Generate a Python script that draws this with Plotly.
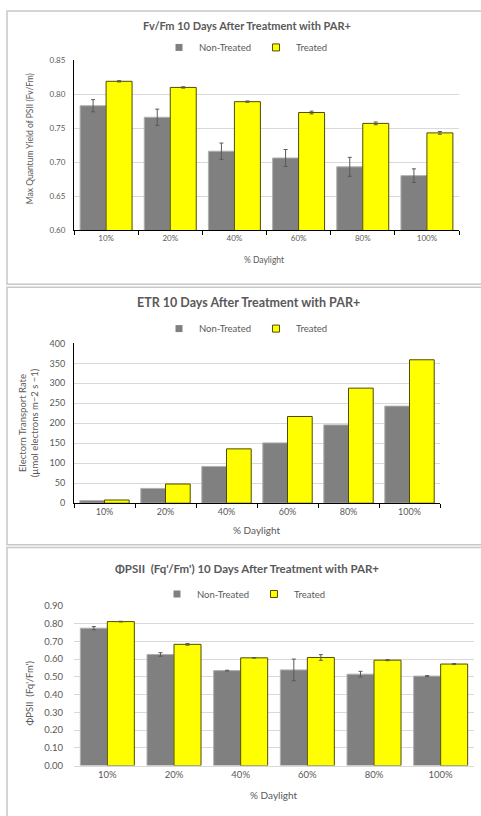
import plotly.graph_objects as go

categories = ["10%", "20%", "40%", "60%", "80%", "100%"]

# Panel 1: Fv/Fm
fvfm_nt = [0.783, 0.766, 0.716, 0.706, 0.693, 0.680]
fvfm_nt_err = [0.009, 0.012, 0.012, 0.0125, 0.014, 0.010]
fvfm_t = [0.819, 0.810, 0.789, 0.773, 0.757, 0.743]
fvfm_t_err = [0.001, 0.001, 0.001, 0.002, 0.002, 0.002]

# Panel 2: ETR
etr_nt = [6.5, 37, 92, 151, 196, 243]
etr_t = [8, 48, 136, 217, 288, 359]

# Panel 3: PhiPSII
phi_nt = [0.774, 0.626, 0.535, 0.539, 0.515, 0.504]
phi_nt_err = [0.009, 0.010, 0.002, 0.061, 0.016, 0.003]
phi_t = [0.811, 0.683, 0.607, 0.609, 0.594, 0.572]
phi_t_err = [0.002, 0.005, 0.002, 0.016, 0.003, 0.003]

W, H = 481, 816
FONT = "Lato, Open Sans, sans-serif"
GRAY = "#808080"
YEL = "#FFFF00"
TXT = "#595959"

def px(x):
    return x / W

def py(y):
    return 1 - y / H

fig = go.Figure()

def add_pair(nt, t, xa, ya, leg, nt_err=None, t_err=None):
    eb = lambda e: dict(type="data", array=e, visible=True, color="#595959",
                        thickness=1, width=2) if e is not None else None
    fig.add_trace(go.Bar(x=categories, y=nt, name="Non-Treated", xaxis=xa, yaxis=ya,
                         marker=dict(color=GRAY, line=dict(color="#b0b0b0", width=1)),
                         error_y=eb(nt_err), showlegend=False))
    fig.add_trace(go.Bar(x=categories, y=t, name="Treated", xaxis=xa, yaxis=ya,
                         marker=dict(color=YEL, line=dict(color="#4d4d00", width=1)),
                         error_y=eb(t_err), showlegend=False))
    # legend entries with small square swatches
    fig.add_trace(go.Scatter(x=[None], y=[None], mode="markers", name="Non-Treated",
                             xaxis=xa, yaxis=ya, legend=leg,
                             marker=dict(symbol="square", size=7, color=GRAY,
                                         line=dict(width=0))))
    fig.add_trace(go.Scatter(x=[None], y=[None], mode="markers", name="Treated",
                             xaxis=xa, yaxis=ya, legend=leg,
                             marker=dict(symbol="square", size=7, color=YEL,
                                         line=dict(color="#4d4d00", width=1))))

add_pair(fvfm_nt, fvfm_t, "x", "y", "legend", fvfm_nt_err, fvfm_t_err)
add_pair(etr_nt, etr_t, "x2", "y2", "legend2")
add_pair(phi_nt, phi_t, "x3", "y3", "legend3", phi_nt_err, phi_t_err)

tickfont_s = dict(family=FONT, size=8, color=TXT)
tickfont_m = dict(family=FONT, size=9, color=TXT)
tickfont_l = dict(family=FONT, size=9.5, color=TXT)

layout = dict(
    width=W, height=H, autosize=False,
    margin=dict(l=0, r=0, t=0, b=0),
    paper_bgcolor="white", plot_bgcolor="white",
    barmode="group", bargap=0.19, bargroupgap=0,
    font=dict(family=FONT, color=TXT),
    xaxis=dict(domain=[px(74), px(459)], anchor="y", showline=True, linecolor="black",
               linewidth=1, ticks="outside", tickson="boundaries", ticklen=4,
               tickcolor="black", tickfont=tickfont_s, showgrid=False,
               categoryorder="array", categoryarray=categories),
    yaxis=dict(domain=[py(227), py(55)], anchor="x", range=[0.6, 0.85], dtick=0.05,
               tickformat=".2f", showline=True, linecolor="black", linewidth=1,
               gridcolor="#d9d9d9", tickfont=tickfont_s, ticklabelstandoff=6,
               zeroline=False),
    xaxis2=dict(domain=[px(74), px(440)], anchor="y2", showline=True, linecolor="black",
                linewidth=1, ticks="outside", tickson="boundaries", ticklen=4,
                tickcolor="black", tickfont=tickfont_m, showgrid=False,
                categoryorder="array", categoryarray=categories),
    yaxis2=dict(domain=[py(504), py(342)], anchor="x2", range=[0, 400], dtick=50,
                showline=True, linecolor="black", linewidth=1, gridcolor="#d9d9d9",
                tickfont=tickfont_m, ticklabelstandoff=6, zeroline=False),
    xaxis3=dict(domain=[px(74), px(474)], anchor="y3", showline=True, linecolor="#d9d9d9",
                linewidth=1, ticks="", tickfont=tickfont_l, showgrid=False,
                categoryorder="array", categoryarray=categories),
    yaxis3=dict(domain=[py(770), py(608)], anchor="x3", range=[0, 0.9], dtick=0.1,
                tickformat=".2f", showline=False, gridcolor="#d9d9d9",
                tickfont=tickfont_l, ticklabelstandoff=10, zeroline=False),
)

leg_common = dict(orientation="h", xanchor="center", yanchor="middle",
                  font=dict(family=FONT, size=9.5, color=TXT), bgcolor="rgba(0,0,0,0)",
                  itemwidth=30, tracegroupgap=0)
layout["legend"] = dict(leg_common, x=px(246), y=py(42))
layout["legend2"] = dict(leg_common, x=px(246), y=py(327))
layout["legend3"] = dict(leg_common, x=px(244), y=py(596))

fig.update_layout(**layout)

def ann(text, x, y, size, bold=False, angle=0, color=TXT):
    fig.add_annotation(text=f"<b>{text}</b>" if bold else text, x=px(x), y=py(y),
                       xref="paper", yref="paper", showarrow=False, textangle=angle,
                       xanchor="center", yanchor="middle",
                       font=dict(family=FONT, size=size, color=color))

# Titles
ann("Fv/Fm 10 Days After Treatment with PAR+", 247, 20, 11, bold=True)
ann("ETR 10 Days After Treatment with PAR+", 248, 301, 12.5, bold=True)
ann("ΦPSII  (Fq'/Fm') 10 Days After Treatment with PAR+", 247, 570, 11.5, bold=True)

# Axis titles
ann("% Daylight", 264, 257, 8.5)
ann("% Daylight", 257, 531, 10)
ann("% Daylight", 274, 800, 10)
ann("Max Quantum Yield of PSII (Fv/Fm)", 30, 135, 8.5, angle=-90)
ann("Electorn Transport Rate<br>(µmol electrons m−2 s −1)", 28, 423, 9.5, angle=-90)
ann("ΦPSII  (Fq'/Fm')", 30, 697, 9.5, angle=-90)

# Panel borders
for y0, y1 in [(5, 282), (285, 546), (549, 830)]:
    fig.add_shape(type="rect", xref="paper", yref="paper",
                  x0=px(7), x1=px(490), y0=py(y1), y1=py(y0),
                  line=dict(color="#c8c8c8", width=1.5), fillcolor="rgba(0,0,0,0)",
                  layer="below")

fig.write_html("out.html", config={"displayModeBar": False},
               post_script="document.body.style.margin='0';document.body.style.padding='0';document.body.style.overflow='hidden';")
